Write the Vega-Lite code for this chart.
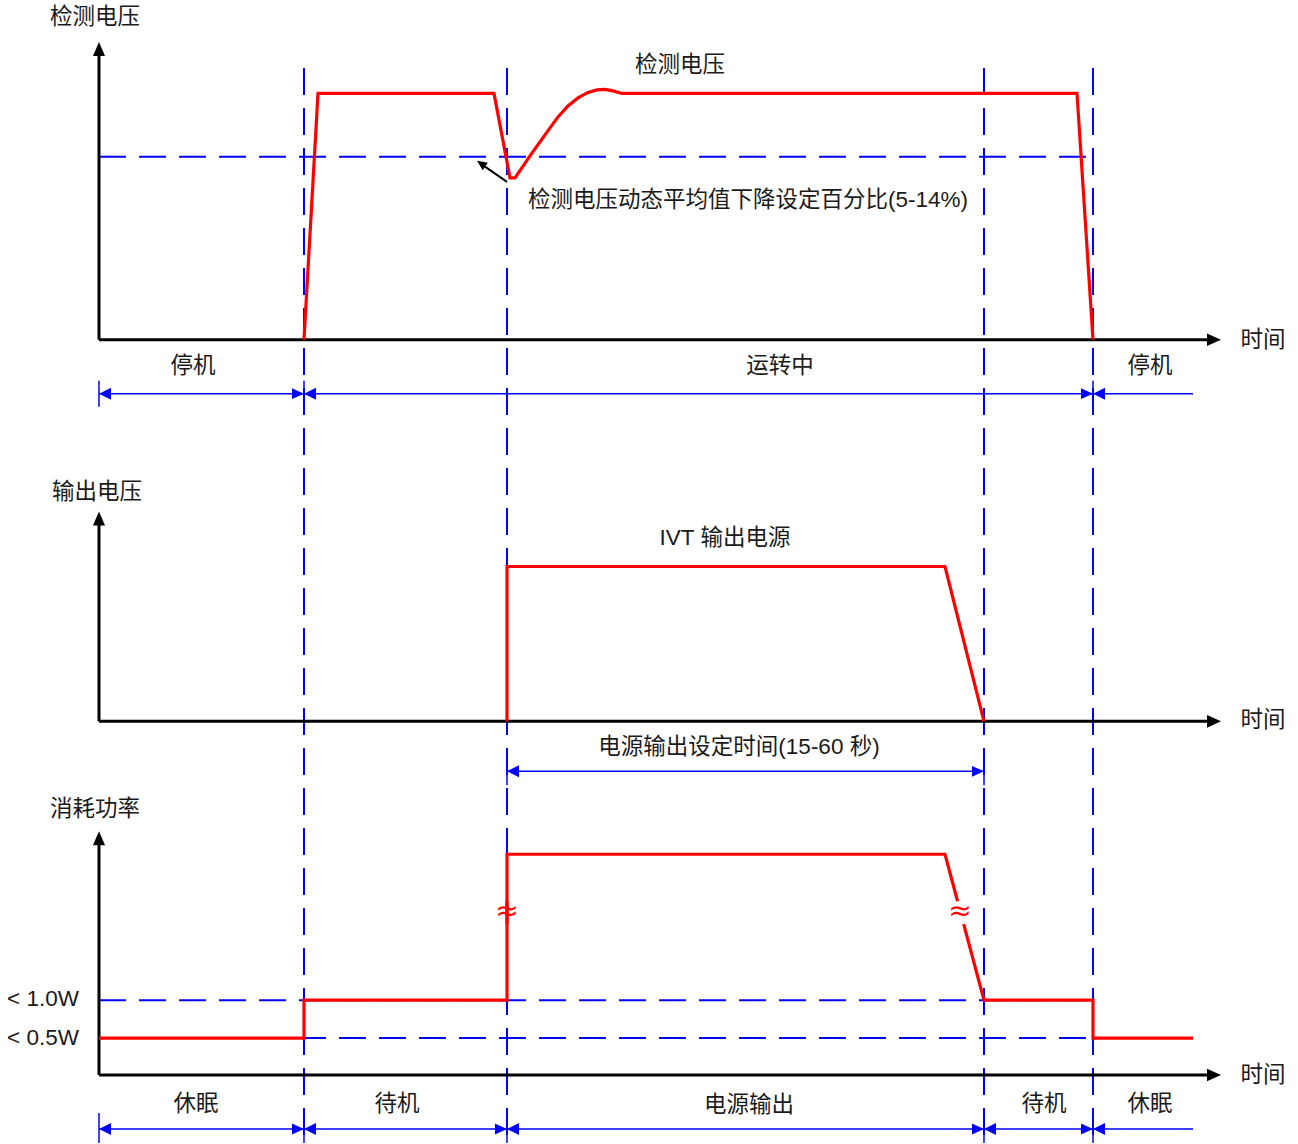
{
  "$schema": "https://vega.github.io/schema/vega-lite/v6.json",
  "width": 1298,
  "height": 1144,
  "autosize": {"type": "fit", "contains": "padding"},
  "padding": 0,
  "config": {"view": {"stroke": null}, "font": "Liberation Sans, Noto Sans CJK SC"},
  "datasets": {
    "guides": [
      {"x": 304, "y": 68, "x2": 304, "y2": 1144},
      {"x": 507, "y": 68, "x2": 507, "y2": 1144},
      {"x": 984, "y": 68, "x2": 984, "y2": 1144},
      {"x": 1093, "y": 68, "x2": 1093, "y2": 1144},
      {"x": 99, "y": 157, "x2": 1093, "y2": 157},
      {"x": 99, "y": 1001, "x2": 1093, "y2": 1001},
      {"x": 99, "y": 1039, "x2": 1193, "y2": 1039}
    ],
    "axes": [
      {"x": 99, "y": 52, "x2": 99, "y2": 340},
      {"x": 99, "y": 340, "x2": 1208, "y2": 340},
      {"x": 99, "y": 522, "x2": 99, "y2": 722},
      {"x": 99, "y": 722, "x2": 1208, "y2": 722},
      {"x": 99, "y": 842, "x2": 99, "y2": 1076},
      {"x": 99, "y": 1076, "x2": 1208, "y2": 1076}
    ],
    "axisHeads": [
      {"x": 99, "y": 42, "dir": "U"},
      {"x": 99, "y": 512, "dir": "U"},
      {"x": 99, "y": 832, "dir": "U"},
      {"x": 1221, "y": 340, "dir": "R"},
      {"x": 1221, "y": 722, "dir": "R"},
      {"x": 1221, "y": 1076, "dir": "R"}
    ],
    "spans": [
      {"x": 99, "x2": 1193, "y": 394},
      {"x": 507, "x2": 984, "y": 772},
      {"x": 99, "x2": 1193, "y": 1130}
    ],
    "ticks": [
      {"x": 99, "y": 381, "y2": 407},
      {"x": 304, "y": 381, "y2": 407},
      {"x": 1093, "y": 381, "y2": 407},
      {"x": 507, "y": 759, "y2": 786},
      {"x": 984, "y": 759, "y2": 786},
      {"x": 99, "y": 1114, "y2": 1144},
      {"x": 304, "y": 1114, "y2": 1144},
      {"x": 507, "y": 1114, "y2": 1144},
      {"x": 984, "y": 1114, "y2": 1144},
      {"x": 1093, "y": 1114, "y2": 1144}
    ],
    "spanHeads": [
      {"x": 99, "y": 394, "dir": "L"},
      {"x": 304, "y": 394, "dir": "R"},
      {"x": 304, "y": 394, "dir": "L"},
      {"x": 1093, "y": 394, "dir": "R"},
      {"x": 1093, "y": 394, "dir": "L"},
      {"x": 507, "y": 772, "dir": "L"},
      {"x": 984, "y": 772, "dir": "R"},
      {"x": 99, "y": 1130, "dir": "L"},
      {"x": 304, "y": 1130, "dir": "R"},
      {"x": 304, "y": 1130, "dir": "L"},
      {"x": 507, "y": 1130, "dir": "R"},
      {"x": 507, "y": 1130, "dir": "L"},
      {"x": 984, "y": 1130, "dir": "R"},
      {"x": 984, "y": 1130, "dir": "L"},
      {"x": 1093, "y": 1130, "dir": "R"},
      {"x": 1093, "y": 1130, "dir": "L"}
    ],
    "signal": [
      {"series": "s1", "seq": 1, "x": 304, "y": 340},
      {"series": "s1", "seq": 2, "x": 318, "y": 93.5},
      {"series": "s1", "seq": 3, "x": 494, "y": 93.5},
      {"series": "s1", "seq": 4, "x": 510, "y": 178},
      {"series": "s1", "seq": 5, "x": 515, "y": 178},
      {"series": "s1", "seq": 6, "x": 530, "y": 156},
      {"series": "s1", "seq": 7, "x": 545, "y": 135},
      {"series": "s1", "seq": 8, "x": 558, "y": 117},
      {"series": "s1", "seq": 9, "x": 568, "y": 106},
      {"series": "s1", "seq": 10, "x": 578, "y": 98},
      {"series": "s1", "seq": 11, "x": 588, "y": 92.5},
      {"series": "s1", "seq": 12, "x": 597, "y": 90},
      {"series": "s1", "seq": 13, "x": 605, "y": 89.5},
      {"series": "s1", "seq": 14, "x": 613, "y": 91},
      {"series": "s1", "seq": 15, "x": 622, "y": 93.5},
      {"series": "s1", "seq": 16, "x": 1077, "y": 93.5},
      {"series": "s1", "seq": 17, "x": 1093, "y": 340},
      {"series": "s2", "seq": 1, "x": 507, "y": 722},
      {"series": "s2", "seq": 2, "x": 507, "y": 567},
      {"series": "s2", "seq": 3, "x": 945, "y": 567},
      {"series": "s2", "seq": 4, "x": 984, "y": 722},
      {"series": "s3a", "seq": 1, "x": 99, "y": 1039},
      {"series": "s3a", "seq": 2, "x": 304, "y": 1039},
      {"series": "s3a", "seq": 3, "x": 304, "y": 1001},
      {"series": "s3a", "seq": 4, "x": 507, "y": 1001},
      {"series": "s3a", "seq": 5, "x": 507, "y": 902},
      {"series": "s3b", "seq": 1, "x": 507, "y": 925},
      {"series": "s3b", "seq": 2, "x": 507, "y": 855},
      {"series": "s3b", "seq": 3, "x": 945, "y": 855},
      {"series": "s3b", "seq": 4, "x": 957.6, "y": 902},
      {"series": "s3c", "seq": 1, "x": 963.7, "y": 925},
      {"series": "s3c", "seq": 2, "x": 984, "y": 1001},
      {"series": "s3c", "seq": 3, "x": 1093, "y": 1001},
      {"series": "s3c", "seq": 4, "x": 1093, "y": 1039},
      {"series": "s3c", "seq": 5, "x": 1193, "y": 1039}
    ],
    "labels": [
      {"x": 95, "y": 17, "text": "检测电压"},
      {"x": 680, "y": 65, "text": "检测电压"},
      {"x": 748, "y": 200, "text": "检测电压动态平均值下降设定百分比(5-14%)"},
      {"x": 1263, "y": 340, "text": "时间"},
      {"x": 193, "y": 366, "text": "停机"},
      {"x": 780, "y": 366, "text": "运转中"},
      {"x": 1150, "y": 366, "text": "停机"},
      {"x": 97, "y": 492, "text": "输出电压"},
      {"x": 725, "y": 538, "text": "IVT 输出电源"},
      {"x": 1263, "y": 721, "text": "时间"},
      {"x": 739, "y": 748, "text": "电源输出设定时间(15-60 秒)"},
      {"x": 95, "y": 810, "text": "消耗功率"},
      {"x": 43, "y": 1000, "text": "< 1.0W"},
      {"x": 43, "y": 1039, "text": "< 0.5W"},
      {"x": 1263, "y": 1076, "text": "时间"},
      {"x": 196, "y": 1105, "text": "休眠"},
      {"x": 397, "y": 1105, "text": "待机"},
      {"x": 749, "y": 1106, "text": "电源输出"},
      {"x": 1044, "y": 1105, "text": "待机"},
      {"x": 1150, "y": 1105, "text": "休眠"}
    ],
    "breaks": [
      {"x": 507, "y": 913, "text": "≈"},
      {"x": 960, "y": 913, "text": "≈"}
    ],
    "pointer": [
      {"x": 507, "y": 182, "x2": 481, "y2": 164}
    ],
    "pointerHead": [
      {"x": 477, "y": 161}
    ]
  },
  "layer": [
    {
      "data": {"name": "guides"},
      "mark": {"type": "rule", "color": "#0000ff", "strokeWidth": 2, "strokeDash": [27, 13]},
      "encoding": {
        "x": {"field": "x", "type": "quantitative", "scale": {"domain": [0, 1298], "nice": false, "zero": false}, "axis": null},
        "y": {"field": "y", "type": "quantitative", "scale": {"domain": [0, 1144], "nice": false, "zero": false, "reverse": true}, "axis": null},
        "x2": {"field": "x2"},
        "y2": {"field": "y2"}
      }
    },
    {
      "data": {"name": "axes"},
      "mark": {"type": "rule", "color": "#000000", "strokeWidth": 3},
      "encoding": {
        "x": {"field": "x", "type": "quantitative"},
        "y": {"field": "y", "type": "quantitative"},
        "x2": {"field": "x2"},
        "y2": {"field": "y2"}
      }
    },
    {
      "data": {"name": "axisHeads"},
      "mark": {"type": "point", "filled": true, "color": "#000000", "size": 784, "opacity": 1},
      "encoding": {
        "x": {"field": "x", "type": "quantitative"},
        "y": {"field": "y", "type": "quantitative"},
        "shape": {"field": "dir", "type": "nominal", "legend": null,
          "scale": {"domain": ["U", "R", "L"], "range": ["M0,0L0.43,1L-0.43,1Z", "M0,0L-1,0.45L-1,-0.45Z", "M0,0L1,0.5L1,-0.5Z"]}}
      }
    },
    {
      "data": {"name": "spans"},
      "mark": {"type": "rule", "color": "#0000ff", "strokeWidth": 1.5},
      "encoding": {
        "x": {"field": "x", "type": "quantitative"},
        "x2": {"field": "x2"},
        "y": {"field": "y", "type": "quantitative"}
      }
    },
    {
      "data": {"name": "ticks"},
      "mark": {"type": "rule", "color": "#0000ff", "strokeWidth": 1.5},
      "encoding": {
        "x": {"field": "x", "type": "quantitative"},
        "y": {"field": "y", "type": "quantitative"},
        "y2": {"field": "y2"}
      }
    },
    {
      "data": {"name": "spanHeads"},
      "mark": {"type": "point", "filled": true, "color": "#0000ff", "size": 576, "opacity": 1},
      "encoding": {
        "x": {"field": "x", "type": "quantitative"},
        "y": {"field": "y", "type": "quantitative"},
        "shape": {"field": "dir", "type": "nominal", "legend": null,
          "scale": {"domain": ["U", "R", "L"], "range": ["M0,0L0.43,1L-0.43,1Z", "M0,0L-1,0.45L-1,-0.45Z", "M0,0L1,0.5L1,-0.5Z"]}}
      }
    },
    {
      "data": {"name": "signal"},
      "mark": {"type": "line", "color": "#ff0000", "strokeWidth": 3.2, "strokeJoin": "miter"},
      "encoding": {
        "x": {"field": "x", "type": "quantitative"},
        "y": {"field": "y", "type": "quantitative"},
        "detail": {"field": "series", "type": "nominal"},
        "order": {"field": "seq", "type": "quantitative"}
      }
    },
    {
      "data": {"name": "pointer"},
      "mark": {"type": "rule", "color": "#000000", "strokeWidth": 2},
      "encoding": {
        "x": {"field": "x", "type": "quantitative"},
        "y": {"field": "y", "type": "quantitative"},
        "x2": {"field": "x2"},
        "y2": {"field": "y2"}
      }
    },
    {
      "data": {"name": "pointerHead"},
      "mark": {"type": "point", "filled": true, "color": "#000000", "size": 400, "opacity": 1, "shape": "M0,0L-1,0.45L-1,-0.45Z", "angle": 214.5},
      "encoding": {
        "x": {"field": "x", "type": "quantitative"},
        "y": {"field": "y", "type": "quantitative"}
      }
    },
    {
      "data": {"name": "breaks"},
      "mark": {"type": "text", "color": "#ff0000", "fontSize": 28, "align": "center", "baseline": "middle", "font": "DejaVu Sans"},
      "encoding": {
        "x": {"field": "x", "type": "quantitative"},
        "y": {"field": "y", "type": "quantitative"},
        "text": {"field": "text"}
      }
    },
    {
      "data": {"name": "labels"},
      "mark": {"type": "text", "color": "#1a1a1a", "fontSize": 22.5, "align": "center", "baseline": "middle"},
      "encoding": {
        "x": {"field": "x", "type": "quantitative"},
        "y": {"field": "y", "type": "quantitative"},
        "text": {"field": "text"}
      }
    }
  ]
}
